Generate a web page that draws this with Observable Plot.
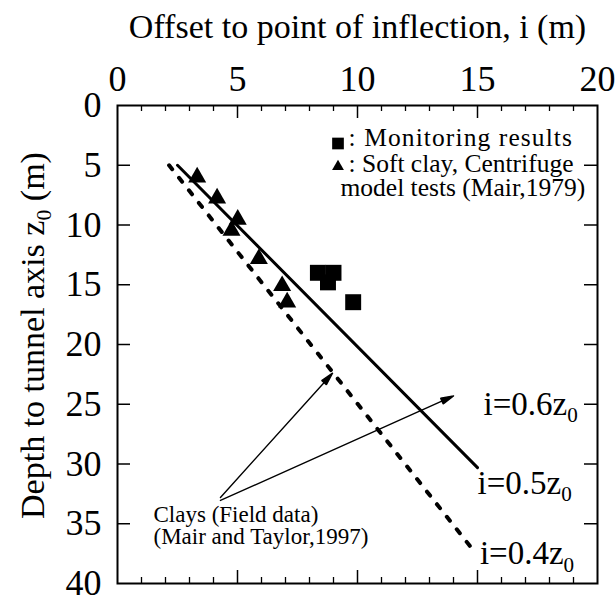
<!DOCTYPE html>
<html><head><meta charset="utf-8">
<script src="https://cdn.jsdelivr.net/npm/d3@7"></script>
<script src="https://cdn.jsdelivr.net/npm/@observablehq/plot@0.6"></script>
<style>body{margin:0;background:#fff} svg{display:block}</style>
</head><body><div id="chart"></div>
<script>
// Tick labels / tick positions
const xTicks = [0, 5, 10, 15, 20];
const yTicks = [0, 5, 10, 15, 20, 25, 30, 35, 40];
const xMinorTicks = [1, 2, 3, 4, 6, 7, 8, 9, 11, 12, 13, 14, 16, 17, 18, 19];
const xMajorTicks = [5, 10, 15];
const yMajorTicks = [5, 10, 15, 20, 25, 30, 35];

// Monitoring results (squares)
const monitoringI = [8.35, 9.0, 8.77, 9.82];
const monitoringZ = [14.0, 14.0, 14.8, 16.46];

// Soft clay, centrifuge model tests (Mair, 1979) (triangles)
const mairI = [3.32, 4.15, 5.01, 4.75, 5.89, 6.86, 7.07];
const mairZ = [6.0, 7.76, 9.54, 10.46, 12.83, 15.09, 16.46];

// Reference lines (Mair and Taylor, 1997)
const lineHalfI = [2.5, 15.0];
const lineHalfZ = [5, 30.3];
const lineFourI = [2.15, 14.7];
const lineFourZ = [5, 36.9];

// Ratio labels
const ratioLabels = ["i=0.6z_0", "i=0.5z_0", "i=0.4z_0"];
const ratioLabelI = [15.25, 15.0, 15.1];
const ratioLabelZ = [25.0, 31.6, 37.5];

// Annotation arrows
const arrowFromI = [4.29, 4.29];
const arrowFromZ = [32.8, 33.05];
const arrowToI = [8.96, 14.0];
const arrowToZ = [22.4, 24.3];

const W = 615, H = 599;
const mL = 117, mR = 18, mT = 105, mB = 16;
const fw = W - mL - mR, fh = H - mT - mB;

const squares = monitoringI.map((v, k) => ({i: v, z: monitoringZ[k]}));
const triangles = mairI.map((v, k) => ({i: v, z: mairZ[k]}));
const half = lineHalfI.map((v, k) => ({i: v, z: lineHalfZ[k]}));
const four = lineFourI.map((v, k) => ({i: v, z: lineFourZ[k]}));
const labels = ratioLabels.map((t, k) => ({t, i: ratioLabelI[k], z: ratioLabelZ[k]}));
const arrows = arrowFromI.map((v, k) => ({i1: v, z1: arrowFromZ[k], i2: arrowToI[k], z2: arrowToZ[k]}));

const chart = Plot.plot({
  width: W, height: H,
  marginLeft: mL, marginRight: mR, marginTop: mT, marginBottom: mB,
  style: {fontFamily: "Liberation Serif", background: "white", color: "black", overflow: "visible"},
  x: {domain: [0, 20]},
  y: {domain: [0, 40], reverse: true},
  marks: [
    Plot.frame({strokeWidth: 2}),
    Plot.ruleX(xMinorTicks, {x: d => d, insetBottom: fh - 6, strokeWidth: 1.3}),
    Plot.ruleX(xMinorTicks, {x: d => d, insetTop: fh - 6, strokeWidth: 1.3}),
    Plot.ruleX(xMajorTicks, {x: d => d, insetBottom: fh - 13, strokeWidth: 1.5}),
    Plot.ruleX(xMajorTicks, {x: d => d, insetTop: fh - 13, strokeWidth: 1.5}),
    Plot.ruleY(yMajorTicks, {y: d => d, insetRight: fw - 13, strokeWidth: 1.5}),
    Plot.ruleY(yMajorTicks, {y: d => d, insetLeft: fw - 13, strokeWidth: 1.5}),
    Plot.axisX(xTicks, {anchor: "top", tickSize: 0, tickPadding: 15, fontSize: 36, label: null}),
    Plot.axisY(yTicks, {anchor: "left", tickSize: 0, tickPadding: 16, fontSize: 36, label: null}),
    Plot.text(["Offset to point of inflection, i (m)"], {frameAnchor: "top", dy: -68, lineAnchor: "bottom", fontSize: 34}),
    Plot.text(["Depth to tunnel axis z_0 (m)"], {frameAnchor: "left", textAnchor: "middle", rotate: -90, dx: -74, dy: -9, lineAnchor: "bottom", fontSize: 34}),
    Plot.line(half, {x: "i", y: "z", stroke: "black", strokeWidth: 3}),
    Plot.line(four, {x: "i", y: "z", stroke: "black", strokeWidth: 4, strokeDasharray: "5,11"}),
    Plot.arrow(arrows, {x1: "i1", y1: "z1", x2: "i2", y2: "z2", stroke: "black", strokeWidth: 1.4, headLength: 14, headAngle: 28, bend: false}),
    Plot.dot(triangles, {x: "i", y: "z", symbol: "triangle", r: 6.7, fill: "black", stroke: null}),
    Plot.dot(squares, {x: "i", y: "z", symbol: "square", r: 9, fill: "black", stroke: null}),
    Plot.text(labels, {x: "i", y: "z", text: "t", textAnchor: "start", lineAnchor: "middle", fontSize: 33}),
    // legend
    Plot.dot([0], {frameAnchor: "top-left", dx: 220.5, dy: 38, symbol: "square", r: 6.6, fill: "black", stroke: null}),
    Plot.dot([0], {frameAnchor: "top-left", dx: 220.5, dy: 61, symbol: "triangle", r: 4.4, fill: "black", stroke: null}),
    Plot.text([": Monitoring results"], {frameAnchor: "top-left", dx: 231, dy: 40, textAnchor: "start", lineAnchor: "bottom", fontSize: 25.5, ariaLabel: "legend-monitoring"}),
    Plot.text([": Soft clay, Centrifuge"], {frameAnchor: "top-left", dx: 231, dy: 66.5, textAnchor: "start", lineAnchor: "bottom", fontSize: 25.5}),
    Plot.text(["model tests (Mair,1979)"], {frameAnchor: "top-left", dx: 223, dy: 90, textAnchor: "start", lineAnchor: "bottom", fontSize: 25.5}),
    Plot.text(["Clays (Field data)"], {frameAnchor: "top-left", dx: 36, dy: 416.7, textAnchor: "start", lineAnchor: "bottom", fontSize: 23}),
    Plot.text(["(Mair and Taylor,1997)"], {frameAnchor: "top-left", dx: 36, dy: 438, textAnchor: "start", lineAnchor: "bottom", fontSize: 23})
  ]
});
document.getElementById("chart").appendChild(chart);

// subscripts: "z_0" -> z with subscript 0
const ns = "http://www.w3.org/2000/svg";
chart.querySelectorAll("text").forEach(el => {
  if (el.textContent === ": Monitoring results") el.setAttribute("letter-spacing", "1.1");
  const m = el.textContent.match(/^(.*)_(\w)(.*)$/);
  if (!m) return;
  const fs = parseFloat(getComputedStyle(el).fontSize);
  el.textContent = "";
  const a = document.createElementNS(ns, "tspan"); a.textContent = m[1]; el.appendChild(a);
  const b = document.createElementNS(ns, "tspan"); b.textContent = m[2];
  b.setAttribute("font-size", (fs * 0.64).toFixed(1)); b.setAttribute("dy", (fs * 0.22).toFixed(1)); el.appendChild(b);
  if (m[3]) {
    const c = document.createElementNS(ns, "tspan"); c.textContent = m[3];
    c.setAttribute("dy", (-fs * 0.22).toFixed(1)); el.appendChild(c);
  }
});

// filled arrow heads
chart.querySelectorAll('g[aria-label="arrow"] path').forEach(p => {
  p.setAttribute("d", p.getAttribute("d") + "Z");
  p.setAttribute("fill", "black");
});
</script>
</body></html>
